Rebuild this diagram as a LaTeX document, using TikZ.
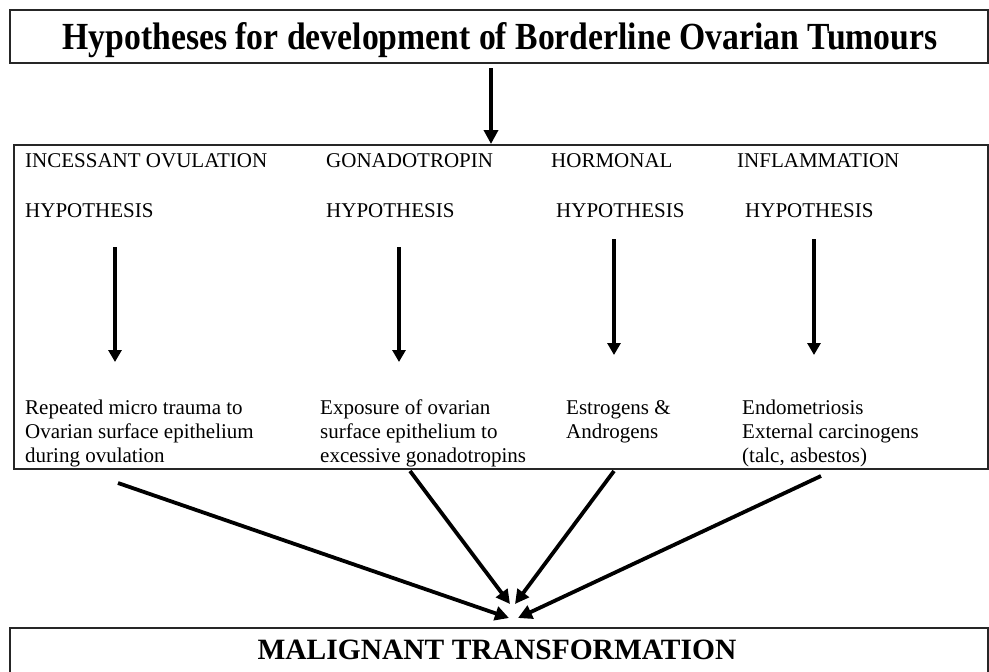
\documentclass[tikz,border=0pt]{standalone}
\usepackage{fontspec}
\setmainfont{Liberation Serif}
\usetikzlibrary{arrows.meta}
\tikzset{
  frame/.style={draw=black!85, line width=1.5pt},
  head/.style={anchor=base west, inner sep=0pt, font=\fontsize{21}{21}\selectfont},
  body/.style={anchor=base west, inner sep=0pt, font=\fontsize{21}{24}\selectfont, align=left},
  arr/.style={line width=3.8pt, -{Triangle[length=14pt,width=14pt]}},
  arrs/.style={line width=3.2pt, -{Triangle[length=12pt,width=13pt]}},
}
\begin{document}
\begin{tikzpicture}[x=1pt,y=-1pt]
\useasboundingbox (0,0) rectangle (989,672);
% boxes
\node[frame, minimum width=978pt, minimum height=53pt, anchor=north west, inner sep=0pt] (top) at (9,9) {};
\node[inner sep=0pt, anchor=base] (title) at (500,49) {\resizebox{875pt}{27pt}{\fontsize{30}{30}\bfseries Hypotheses for development of Borderline Ovarian Tumours}};
\node[frame, minimum width=974pt, minimum height=324pt, anchor=north west, inner sep=0pt] (mid) at (13,144) {};
\node[frame, minimum width=978pt, minimum height=60pt, anchor=north west, inner sep=0pt] (bot) at (9,627) {};
\node[inner sep=0pt, anchor=base] (mal) at (497,659) {\fontsize{29.5}{29.5}\bfseries MALIGNANT TRANSFORMATION};
% top arrow
\coordinate (ta) at (491,68);
\draw[arr] (ta) -- (mid.north -| ta);
% headers
\node[head] (h1) at (25,167) {INCESSANT OVULATION};
\node[head] (h2) at (326,167) {GONADOTROPIN};
\node[head] (h3) at (551,167) {HORMONAL};
\node[head] (h4) at (737,167) {INFLAMMATION};
\node[head] (y1) at (25,217) {HYPOTHESIS};
\node[head] (y2) at (326,217) {HYPOTHESIS};
\node[head] (y3) at (556,217) {HYPOTHESIS};
\node[head] (y4) at (745,217) {HYPOTHESIS};
% body (anchor at baseline of last line)
\node[body] (b1) at (25,462) {Repeated micro trauma to\\Ovarian surface epithelium\\during ovulation};
\node[body] (b2) at (320,462) {Exposure of ovarian\\surface epithelium to\\excessive gonadotropins};
\node[body] (b3) at (566,438) {Estrogens \&\\Androgens};
\node[body] (b4) at (742,462) {Endometriosis\\External carcinogens\\(talc, asbestos)};
% inner arrows
\coordinate (a1s) at (115,247); \coordinate (a1e) at (115,362);
\coordinate (a2s) at (399,247); \coordinate (a2e) at (399,362);
\coordinate (a3s) at (614,239); \coordinate (a3e) at (614,355);
\coordinate (a4s) at (814,239); \coordinate (a4e) at (814,355);
\draw[arrs] (a1s) -- (a1e);
\draw[arrs] (a2s) -- (a2e);
\draw[arrs] (a3s) -- (a3e);
\draw[arrs] (a4s) -- (a4e);
% converging arrows
\coordinate (c1) at (118,483);
\coordinate (c2) at (410,471);
\coordinate (c3) at (614,471);
\coordinate (c4) at (821,476);
\coordinate (t1) at (509,618);
\coordinate (t2) at (510,604);
\coordinate (t3) at (515,604);
\coordinate (t4) at (518,618);
\draw[arr] (c1) -- (t1);
\draw[arr] (c2) -- (t2);
\draw[arr] (c3) -- (t3);
\draw[arr] (c4) -- (t4);
\end{tikzpicture}
\end{document}
